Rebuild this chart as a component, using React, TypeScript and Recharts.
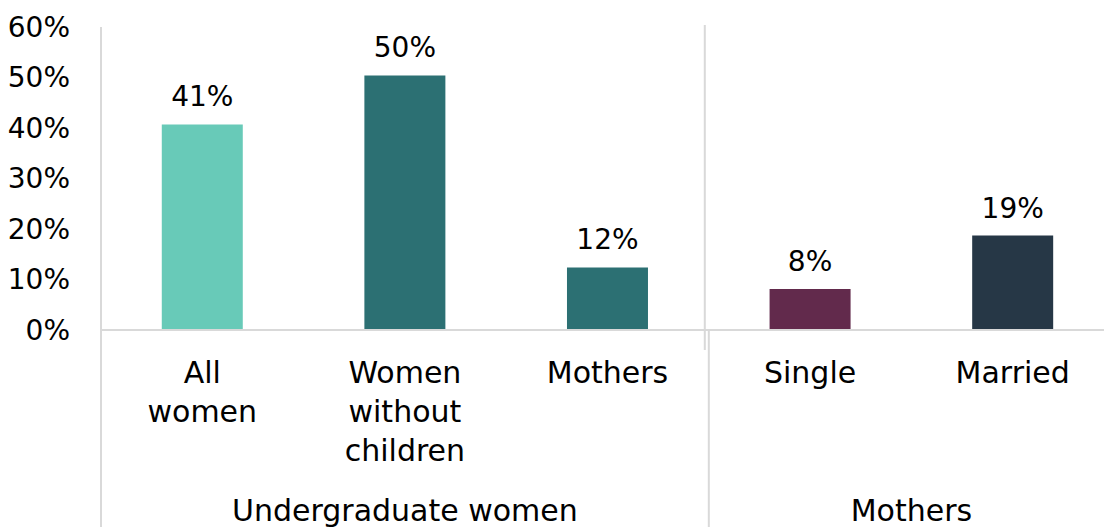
import React from "react";
import { BarChart, Bar, XAxis, YAxis, Cell, LabelList } from "recharts";

const categories = ["All women", "Women without children", "Mothers", "Single", "Married"];
const categoryLines = [["All", "women"], ["Women", "without", "children"], ["Mothers"], ["Single"], ["Married"]];
const values = [40.7, 50.4, 12.4, 8.1, 18.7];
const barColors = ["#68CAB8", "#2C7073", "#2C7073", "#622A4C", "#263746"];
const groups = [
  { label: "Undergraduate women", start: 0, count: 3 },
  { label: "Mothers", start: 3, count: 2 },
];
const yTicks = [0, 10, 20, 30, 40, 50, 60];

const data = categories.map((c, i) => ({ name: c, value: values[i] }));

const FONT = "'DejaVu Sans', sans-serif";
const FS = 30;
const FS_PCT = 28;
const GRID = "#D9D9D9";
const CHART_W = 1120;
const CHART_H = 527;
const MARGIN = { top: 27, right: 6, bottom: 0, left: 0 };
const XAXIS_H = 197;
const PLOT_H = CHART_H - MARGIN.top - MARGIN.bottom - XAXIS_H;

const XTick = (props: any) => {
  const { x, y, payload, index } = props;
  const half = payload.offset ?? 0;
  const lines = categoryLines[index] || [];
  const group = groups.find((g) => g.start === index);
  return (
    <g>
      {lines.map((l, i) => (
        <text
          key={i}
          x={x}
          y={y + 53 + i * 39}
          textAnchor="middle"
          fontFamily={FONT}
          fontSize={FS}
          fill="#000"
        >
          {l}
        </text>
      ))}
      {group && (
        <>
          <text
            x={x - half + group.count * half}
            y={y + 191}
            textAnchor="middle"
            fontFamily={FONT}
            fontSize={FS}
            fill="#000"
          >
            {group.label}
          </text>
          {index === 0 ? (
            <line x1={x - half} x2={x - half} y1={y} y2={y + XAXIS_H} stroke={GRID} strokeWidth={2} />
          ) : (
            <>
              <line x1={x - half - 4} x2={x - half - 4} y1={y - PLOT_H - 2} y2={y + 20} stroke={GRID} strokeWidth={2} />
              <line x1={x - half} x2={x - half} y1={y} y2={y + XAXIS_H} stroke={GRID} strokeWidth={2} />
            </>
          )}
        </>
      )}
    </g>
  );
};

export default function App() {
  return (
    <div style={{ position: "fixed", left: 0, top: 0, width: 1104, height: 527, overflow: "hidden", background: "#fff" }}>
      <BarChart width={CHART_W} height={CHART_H} data={data} margin={MARGIN} barCategoryGap="30%">
        <XAxis
          dataKey="name"
          height={XAXIS_H}
          interval={0}
          tickLine={false}
          tickSize={0}
          tickMargin={0}
          axisLine={{ stroke: GRID, strokeWidth: 2 }}
          tick={<XTick />}
        />
        <YAxis
          width={101}
          domain={[0, 60]}
          ticks={yTicks}
          tickFormatter={(v: number) => `${v}%`}
          tickLine={false}
          tickSize={0}
          tickMargin={31}
          axisLine={{ stroke: GRID, strokeWidth: 2 }}
          tick={{ fontFamily: FONT, fontSize: FS_PCT, fill: "#000" }}
        />
        <Bar dataKey="value" isAnimationActive={false}>
          {data.map((d, i) => (
            <Cell key={i} fill={barColors[i]} />
          ))}
          <LabelList
            dataKey="value"
            position="top"
            offset={18}
            formatter={(v: any) => `${Math.round(Number(v))}%`}
            style={{ fontFamily: FONT, fontSize: FS_PCT, fill: "#000" }}
          />
        </Bar>
      </BarChart>
    </div>
  );
}
